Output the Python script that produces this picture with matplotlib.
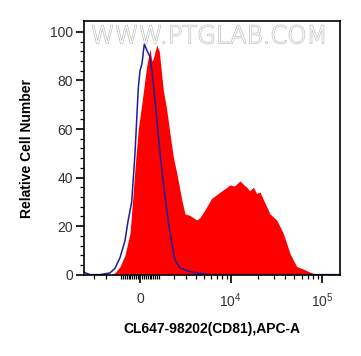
import numpy as np
import matplotlib
matplotlib.use("Agg")
from matplotlib import pyplot
import matplotlib.patheffects as pe

# fluorescence (APC-A) values and relative counts
sample_x = [-1600, -1386, -1083, -800, -525, -380, -260, -88, 88, 350, 525, 620,
            704, 893, 1042, 1281, 1493, 1710, 1939, 2188, 2585, 2868, 3336,
            4049, 4440, 5092, 6094, 7000, 7579, 8700, 9815, 11000, 12676,
            14000, 15030, 16200, 17770, 19300, 21052, 22870, 27085, 32064,
            37870, 44832, 53055, 62641, 74128, 87722, 157600]
sample_y = [0, 0.8, 3.3, 8, 17, 31, 44, 60, 70, 86, 93, 88,
            89, 94.6, 92, 76, 68, 58, 48.5, 42, 31, 25, 24.4,
            22.5, 23.5, 26.7, 31.5, 33, 34, 35.5, 37, 36.5, 38.6,
            37, 36, 34.5, 36, 33.5, 34, 31, 25, 22.5,
            17, 8.7, 3.3, 2.3, 1, 0, 0]

control_x = [-3969, -3857, -3336, -2446, -1710, -1386, -1083, -798, -633, -434,
             -260, -88, 0, 104, 224, 381, 525, 660, 798, 1083, 1386, 1710,
             2061, 2446, 3336, 4440, 5825, 157600]
control_y = [1.2, 0.8, 0, 0, 0.7, 2.6, 7, 14, 22, 30,
             50, 77, 84, 87, 95, 92, 89.8, 82, 72, 50, 32, 17,
             6, 2.7, 1.2, 0.5, 0, 0]

major_ticks = [0, 1e4, 1e5]
major_labels = ["0", "$10^4$", "$10^5$"]
minor_ticks = ([-3000, -2000, -1000] + list(range(-900, 0, 100)) +
               list(range(100, 1000, 100)) + list(range(1000, 10000, 1000)) +
               list(range(20000, 100000, 10000)))

W = 2066.0


def fwd(x):
    return np.arcsinh(np.asarray(x, dtype=float) / W)


def inv(y):
    return W * np.sinh(np.asarray(y, dtype=float))


pyplot.rcParams["font.family"] = ["Liberation Sans", "DejaVu Sans"]
pyplot.rcParams["mathtext.fontset"] = "custom"
pyplot.rcParams["mathtext.rm"] = "Liberation Sans"

fig = pyplot.figure(figsize=(3.61, 3.56), dpi=100)
ax = fig.add_axes([84 / 361, 1 - 275 / 356, 256 / 361, 254 / 356])
ax.set_xscale("function", functions=(fwd, inv))

ax.fill_between(sample_x, sample_y, 0, color="#ff0000", linewidth=0)
ax.plot(control_x, control_y, color="#1c1c9c", linewidth=1.1)

ax.set_xlim(-3969, 157600)
ax.set_ylim(-0.15, 104.5)

ax.set_xticks(major_ticks)
ax.set_xticklabels(major_labels)
ax.set_xticks(minor_ticks, minor=True)
ax.set_yticks([0, 20, 40, 60, 80, 100])
ax.set_yticks(np.arange(0, 101, 4), minor=True)

ax.tick_params(which="major", direction="out", length=6, width=1.2,
               labelsize=10, colors="black", labelcolor="#333333")
ax.tick_params(which="minor", direction="out", length=3, width=0.9)
ax.tick_params(axis="x", pad=6)
ax.tick_params(axis="y", pad=2)
for s in ax.spines.values():
    s.set_linewidth(1.2)

ax.set_xlabel("CL647-98202(CD81),APC-A", fontsize=10, fontweight="bold")
ax.set_ylabel("Relative Cell Number", fontsize=10, fontweight="bold")
ax.xaxis.set_label_coords(0.5, -0.185)
ax.yaxis.set_label_coords(-0.195, 0.5)

ax.text(0.488, 0.94, "WWW.PTGLAB.COM", transform=ax.transAxes,
        ha="center", va="center", fontsize=17.5, color="#ffffff", zorder=5,
        family="DejaVu Sans", fontweight="light",
        path_effects=[pe.withStroke(linewidth=1.0, foreground="#c0c0c0")])

fig.savefig("out.png", dpi=100)
